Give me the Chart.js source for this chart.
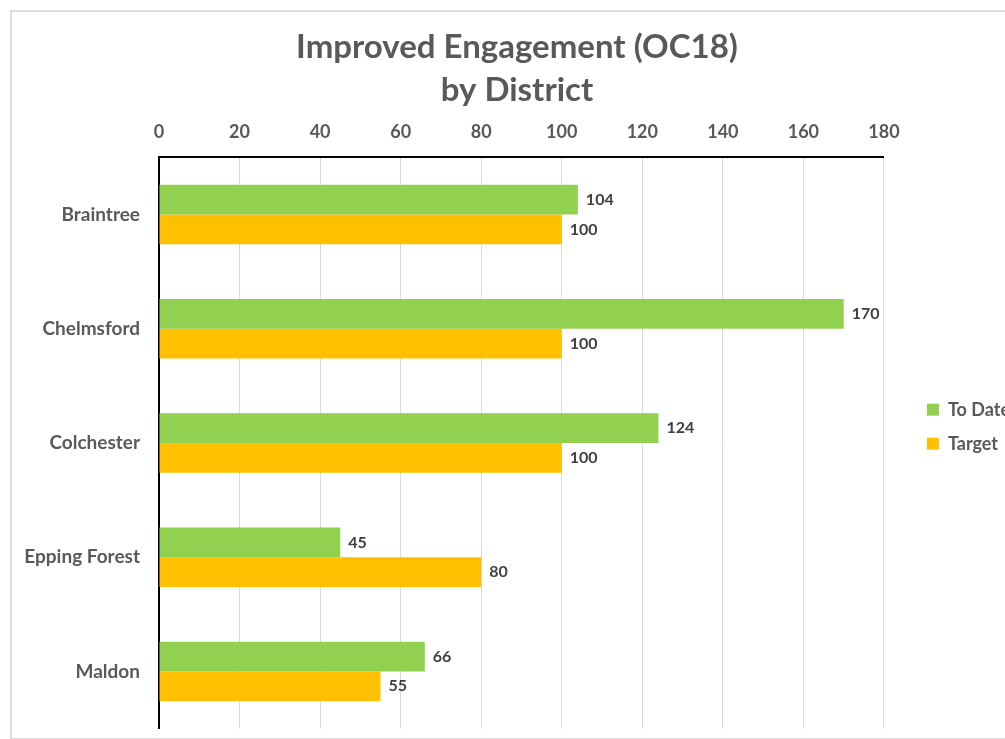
<!DOCTYPE html>
<html>
<head>
<meta charset="utf-8">
<script src="https://cdn.jsdelivr.net/npm/chart.js@4.4.1/dist/chart.umd.min.js"></script>
<style>
  html, body { margin: 0; padding: 0; background: #fff; overflow: hidden; }
  #frame {
    position: absolute; left: 10px; top: 10px;
    width: 1040px; height: 726px;
    border-top: 2px solid #dcdcdc; border-left: 2px solid #dcdcdc; border-bottom: 2px solid #dcdcdc;
  }
  #wrap { position: absolute; left: 2px; top: 2px; width: 1006px; height: 737px; }
</style>
</head>
<body>
<div id="frame"><div id="wrap"><canvas id="chart"></canvas></div></div>
<script>
var districts = ['Braintree', 'Chelmsford', 'Colchester', 'Epping Forest', 'Maldon'];
var toDate = [104, 170, 124, 45, 66];
var target = [100, 100, 100, 80, 55];
var seriesNames = ['To Date', 'Target'];
var seriesColors = ['#92d050', '#ffc000'];

var FONT = 'Lato, "Open Sans", sans-serif';
var GREY = '#595959';

// draws the value next to the end of each bar
var valueLabels = {
    id: 'valueLabels',
    afterDatasetsDraw: function (chart) {
        var ctx = chart.ctx;
        ctx.save();
        ctx.font = 'bold 16px ' + FONT;
        ctx.fillStyle = '#404040';
        ctx.textBaseline = 'middle';
        ctx.textAlign = 'left';
        chart.data.datasets.forEach(function (ds, i) {
            chart.getDatasetMeta(i).data.forEach(function (bar, j) {
                ctx.fillText(ds.data[j], bar.x + 8, bar.y);
            });
        });
        ctx.restore();
    }
};

var ctx = document.getElementById('chart').getContext('2d');
var chart = new Chart(ctx, {
    type: 'bar',
    data: {
        labels: districts,
        datasets: [{
            label: seriesNames[0],
            data: toDate,
            backgroundColor: seriesColors[0]
        }, {
            label: seriesNames[1],
            data: target,
            backgroundColor: seriesColors[1]
        }]
    },
    plugins: [valueLabels],
    options: {
        indexAxis: 'y',
        responsive: true,
        maintainAspectRatio: false,
        animation: false,
        datasets: {
            bar: { categoryPercentage: 0.52, barPercentage: 1.0 }
        },
        layout: { padding: { top: 12, left: 0, right: 0, bottom: 0 } },
        scales: {
            x: {
                position: 'top',
                min: 0,
                max: 180,
                ticks: {
                    stepSize: 20,
                    color: GREY,
                    padding: 14,
                    font: { family: FONT, size: 18, weight: 'bold' }
                },
                grid: { color: '#d9d9d9', lineWidth: 1, drawTicks: false },
                border: { color: '#000', width: 2 }
            },
            y: {
                ticks: {
                    color: GREY,
                    padding: 11,
                    font: { family: FONT, size: 19, weight: 'bold' }
                },
                grid: { display: false },
                border: { color: '#000', width: 2 },
                afterFit: function (scale) { scale.width = 145; }
            },
            // empty spacer between the plot and the legend
            gap: {
                type: 'category',
                axis: 'y',
                position: 'right',
                ticks: { display: false },
                grid: { display: false },
                border: { display: false },
                afterFit: function (scale) { scale.width = 27; }
            }
        },
        plugins: {
            title: {
                display: true,
                text: ['Improved Engagement (OC18)', 'by District'],
                color: GREY,
                font: { family: FONT, size: 33, weight: 'bold', lineHeight: 1.3 },
                padding: { top: 0, bottom: -4 }
            },
            legend: {
                position: 'right',
                title: { display: true, text: '', padding: { top: 62, bottom: 0 } },
                labels: {
                    boxWidth: 12,
                    boxHeight: 12,
                    padding: 16,
                    color: GREY,
                    font: { family: FONT, size: 18, weight: 'bold' }
                }
            },
            tooltip: { enabled: false }
        }
    }
});
</script>
</body>
</html>
